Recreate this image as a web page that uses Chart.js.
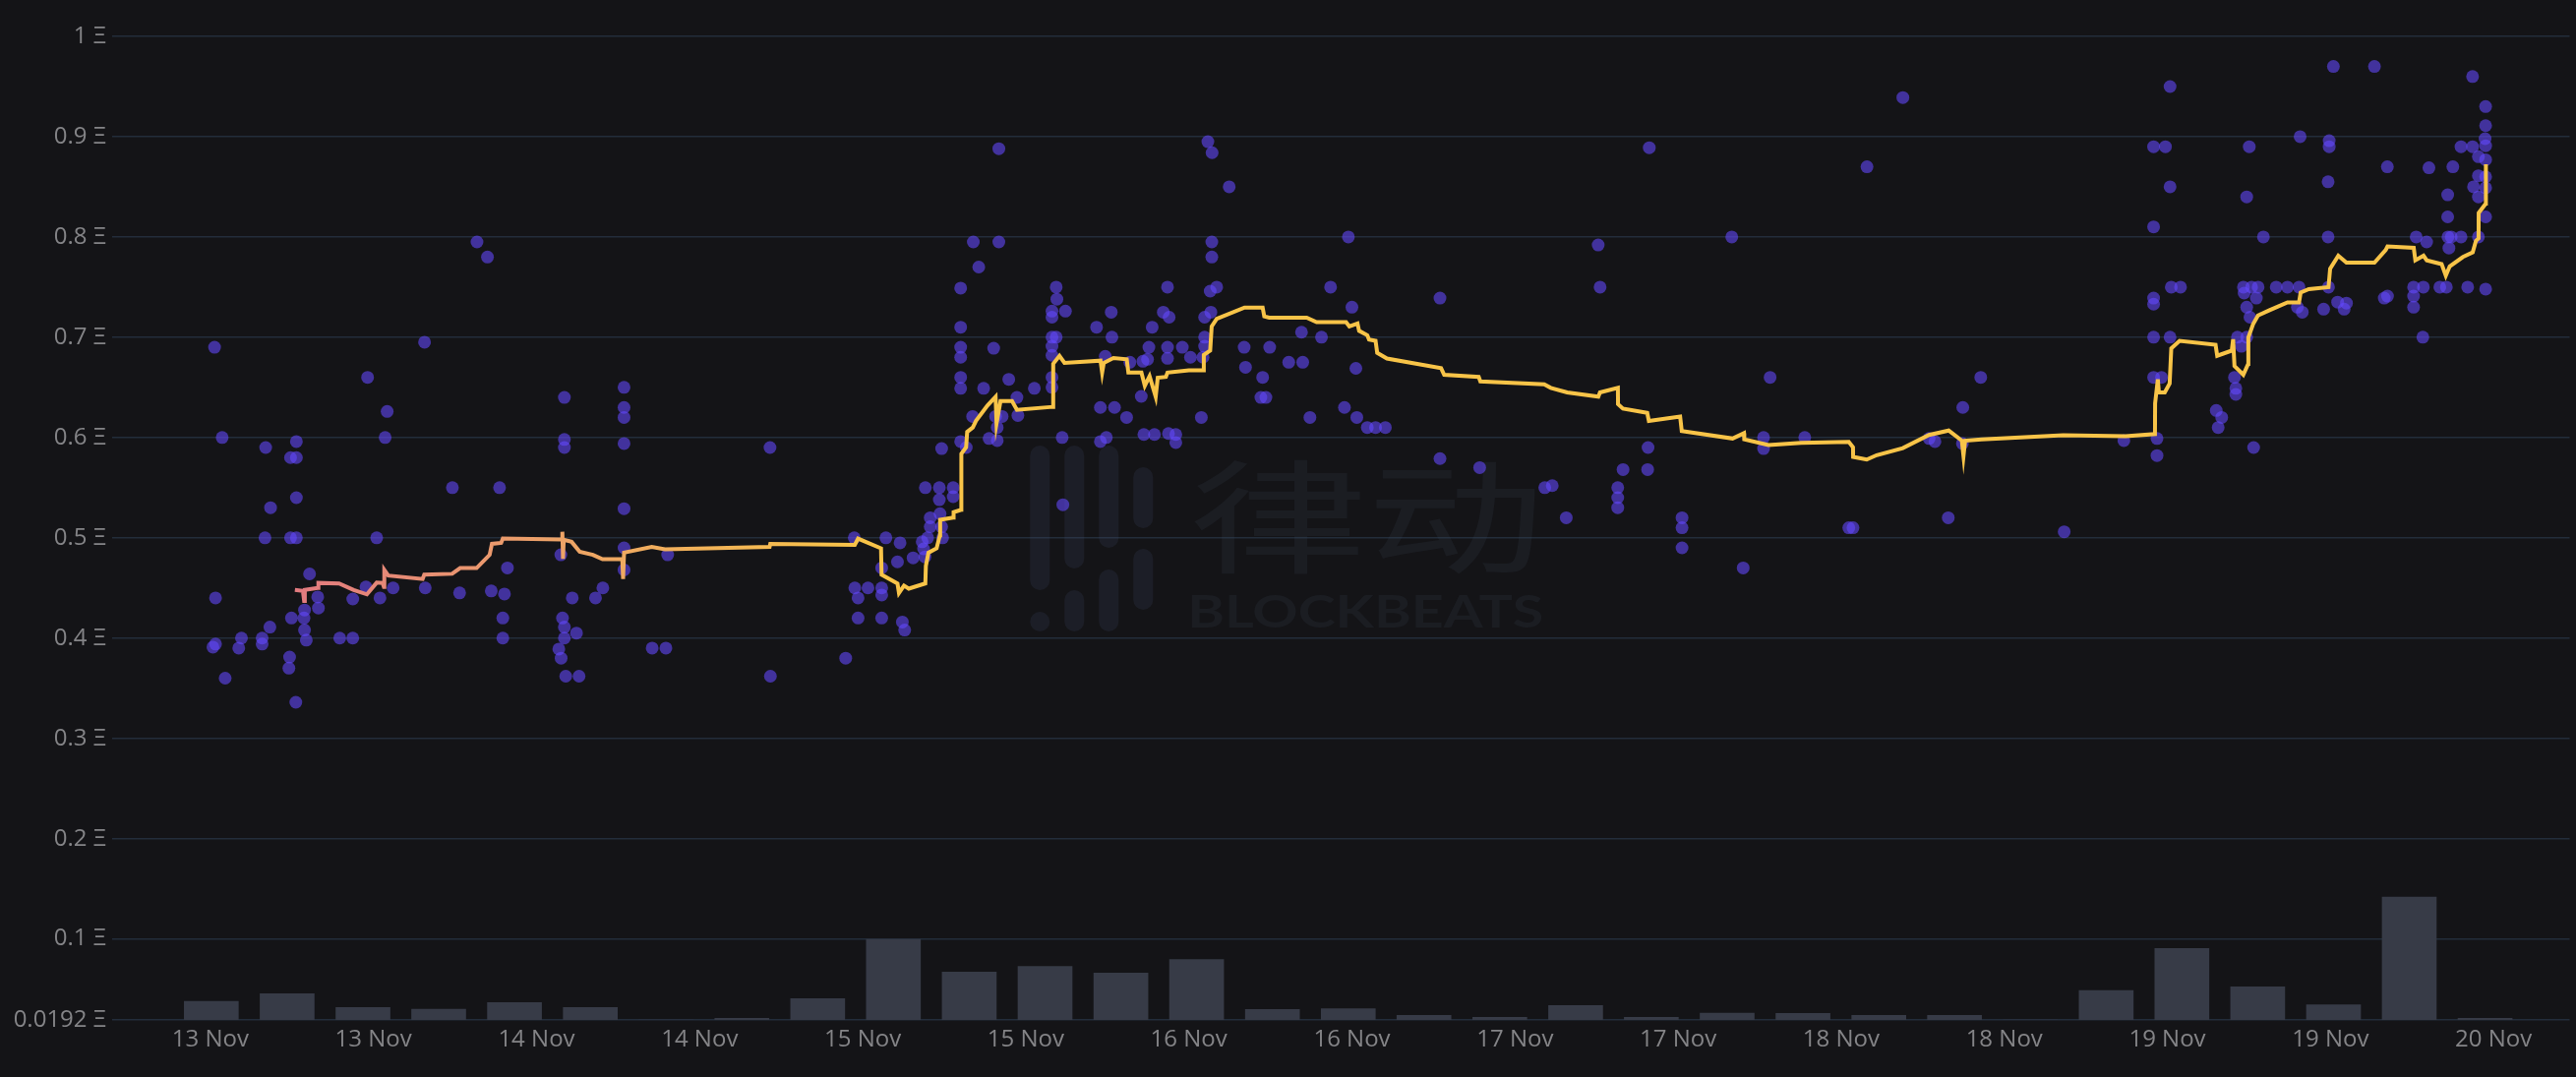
<!DOCTYPE html>
<html>
<head>
<meta charset="utf-8">
<script src="https://cdn.jsdelivr.net/npm/chart.js@4.4.1/dist/chart.umd.min.js"></script>
<style>
    html, body { margin: 0; padding: 0; background: #141417; }
    #wrap { width: 2619px; height: 1095px; position: relative; }
</style>
</head>
<body>
<div id="wrap"><canvas id="chart"></canvas></div>
<script>
// hours since 13 Nov 00:00
const tickHours = [0, 12, 24, 36, 48, 60, 72, 84, 96, 108, 120, 132, 144, 156, 168]
const tickLabels = ['13 Nov', '13 Nov', '14 Nov', '14 Nov', '15 Nov', '15 Nov', '16 Nov', '16 Nov',
    '17 Nov', '17 Nov', '18 Nov', '18 Nov', '19 Nov', '19 Nov', '20 Nov']
const yTickValues = [0.0192, 0.1, 0.2, 0.3, 0.4, 0.5, 0.6, 0.7, 0.8, 0.9, 1]

// volume per bin
const volumeTimes = [0.07, 5.65, 11.23, 16.8, 22.38, 27.96, 33.53, 39.11, 44.69, 50.26, 55.84, 61.42, 67.0, 72.57,
    78.15, 83.73, 89.3, 94.88, 100.46, 106.03, 111.61, 117.19, 122.77, 128.34, 133.92, 139.5, 145.07, 150.65,
    156.23, 161.8, 167.38]
const volumeValues = [1.9, 2.67, 1.27, 1.1, 1.77, 1.27, 0, 0.17, 2.17, 8.2, 4.87, 5.43, 4.77, 6.13,
    1.07, 1.13, 0.47, 0.27, 1.47, 0.27, 0.7, 0.67, 0.47, 0.47, 0, 3.0, 7.27, 3.37,
    1.53, 12.48, 0.17]

// floor price line
const lineTimes = [6.22, 6.81, 6.9, 6.95, 7.9, 7.95, 9.47, 10.55, 11.52, 12.24, 12.67, 12.77, 12.8, 13.09,
    15.62, 15.74, 17.79, 18.38, 19.59, 20.55, 20.72, 21.4, 21.52, 25.86, 25.9, 25.95, 26.0, 26.58,
    27.18, 28.15, 28.86, 30.31, 30.37, 30.44, 32.48, 33.45, 41.15, 41.2, 47.42, 47.66, 49.35, 49.39,
    50.56, 50.67, 51.04, 51.39, 52.61, 52.65, 52.84, 53.44, 53.68, 53.7, 54.66, 54.69, 55.25, 55.26,
    55.61, 55.69, 56.1, 56.34, 57.18, 57.78, 57.85, 58.14, 58.99, 59.35, 62.0, 62.02, 62.48, 62.85,
    65.5, 65.62, 65.74, 66.45, 67.43, 67.55, 68.51, 68.76, 69.11, 69.56, 69.71, 70.31, 70.43, 72.0,
    73.09, 73.1, 73.57, 73.68, 74.05, 76.1, 77.43, 77.55, 77.91, 80.67, 81.4, 83.57, 83.81, 84.41,
    84.53, 85.13, 85.26, 85.74, 85.86, 86.58, 90.56, 90.79, 93.33, 93.45, 98.15, 98.63, 99.84, 102.13,
    102.25, 103.57, 103.58, 103.94, 105.73, 105.85, 108.15, 108.27, 112.01, 112.85, 112.87, 114.65,
    117.06, 120.56, 120.87, 120.88, 121.88, 122.61, 124.54, 126.46, 127.91, 128.88, 129.0, 129.12,
    130.33, 136.34, 140.92, 143.09, 143.1, 143.3, 143.38, 143.81, 144.17, 144.29, 144.9, 147.55,
    147.67, 148.74, 148.84, 148.94, 149.59, 149.95, 149.96, 150.31, 150.67, 151.52, 152.84, 153.69,
    153.81, 154.41, 155.86, 155.98, 156.58, 157.18, 159.24, 160.07, 160.2, 162.13, 162.25, 162.85,
    163.09, 164.18, 164.49, 164.78, 165.75, 166.47, 166.71, 166.9, 166.91, 167.43, 167.44]
const lineValues = [0.448, 0.447, 0.437, 0.448, 0.450, 0.455, 0.4545, 0.448, 0.4436, 0.4553, 0.455, 0.451, 0.468, 0.4624,
    0.4589, 0.4633, 0.4641, 0.4698, 0.4698, 0.483, 0.494, 0.495, 0.4992, 0.4983, 0.506, 0.479, 0.498, 0.496,
    0.486, 0.483, 0.4786, 0.4786, 0.459, 0.4852, 0.4909, 0.4886, 0.4909, 0.494, 0.493, 0.4992, 0.4895, 0.4633,
    0.4545, 0.445, 0.4523, 0.4493, 0.4545, 0.472, 0.4852, 0.4895, 0.5026, 0.518, 0.5202, 0.5255, 0.528, 0.5837,
    0.5903, 0.6056, 0.61, 0.6166, 0.6319, 0.6407, 0.614, 0.6363, 0.6363, 0.6276, 0.6306, 0.6735, 0.6815, 0.6744,
    0.6766, 0.6648, 0.6744, 0.6792, 0.678, 0.6648, 0.6648, 0.6516, 0.6612, 0.6407, 0.6596, 0.6604, 0.6648, 0.667,
    0.667, 0.6823, 0.6867, 0.7108, 0.7183, 0.7296, 0.7296, 0.7209, 0.7195, 0.7195, 0.7151, 0.7151, 0.7108, 0.7138,
    0.7064, 0.702, 0.6976, 0.6964, 0.6845, 0.6788, 0.6692, 0.6626, 0.6604, 0.656, 0.653, 0.6495, 0.645, 0.6407,
    0.645, 0.6495, 0.6333, 0.6289, 0.6245, 0.6166, 0.621, 0.6065, 0.599, 0.6043, 0.5982, 0.5925,
    0.5947, 0.5956, 0.5903, 0.5807, 0.578, 0.5824, 0.5894, 0.6026, 0.607, 0.5969, 0.5815, 0.5969,
    0.5982, 0.6022, 0.6013, 0.6034, 0.6341, 0.658, 0.645, 0.645, 0.6539, 0.6889, 0.6964, 0.6924,
    0.6815, 0.6867, 0.698, 0.6713, 0.6626, 0.6735, 0.6998, 0.713, 0.7217, 0.727, 0.7348, 0.7348,
    0.7446, 0.748, 0.7499, 0.7684, 0.7813, 0.7744, 0.7744, 0.787, 0.7906, 0.7892, 0.7767, 0.7813,
    0.7767, 0.773, 0.7614, 0.7707, 0.78, 0.7846, 0.7962, 0.7985, 0.824, 0.8333, 0.8726]

// individual sales
const saleTimes = [
    0.31, 0.87, 0.38, 0.19, 0.38, 1.09, 2.29, 2.09, 3.81, 3.81,
    4.38, 4.07, 4.43, 4.02, 6.33, 5.9, 6.33, 6.33, 5.9, 6.33,
    7.3, 5.97, 6.93, 6.89, 6.93, 7.06, 5.83, 5.78, 6.29, 7.9,
    7.95, 9.52, 10.48, 10.48, 11.57, 13.01, 12.86, 12.24, 11.45, 12.48,
    13.45, 15.81, 15.76, 17.81, 18.34, 19.62, 20.39, 21.28, 21.86, 20.67,
    21.64, 21.52, 21.52, 26.05, 26.05, 26.05, 25.79, 26.63, 25.91, 26.05,
    26.05, 25.64, 25.81, 26.15, 26.94, 27.13, 28.34, 28.88, 30.44, 30.44,
    30.44, 30.44, 30.44, 30.44, 30.44, 33.65, 32.51, 33.52, 41.18, 41.21,
    46.75, 47.38, 47.42, 47.66, 47.66, 48.39, 49.4, 49.71, 49.4, 49.4,
    49.4, 50.75, 50.56, 50.92, 51.09, 51.71, 52.61, 53.64, 53.64, 54.66,
    54.66, 52.97, 53.69, 52.97, 53.81, 52.38, 52.78, 52.48, 52.58, 53.88,
    53.81, 55.21, 55.21, 55.21, 55.21, 55.21, 55.21, 55.21, 55.62, 56.14,
    56.54, 58.02, 58.02, 56.9, 57.64, 56.09, 57.3, 57.9, 57.78, 58.26,
    57.9, 58.75, 59.35, 59.42, 60.63, 62.24, 62.29, 61.93, 62.92, 61.93,
    61.93, 62.24, 61.93, 61.93, 61.93, 61.93, 62.68, 62.73, 65.21, 66.29,
    66.34, 65.85, 65.49, 66.53, 67.42, 65.49, 65.93, 67.66, 69.3, 69.06,
    68.62, 68.96, 68.5, 68.69, 69.47, 70.43, 70.12, 70.55, 70.43, 70.43,
    71.52, 72.12, 70.5, 71.04, 71.04, 72.92, 73.04, 73.16, 73.16, 73.16,
    73.57, 74.05, 73.62, 73.4, 73.71, 74.97, 73.69, 73.69, 76.07, 76.17,
    77.95, 77.43, 77.67, 77.3, 79.35, 80.38, 80.29, 81.76, 82.43, 83.74,
    84.0, 84.29, 80.91, 83.45, 84.36, 85.13, 85.74, 86.46, 90.48, 90.48,
    93.4, 98.19, 98.74, 99.77, 102.12, 102.26, 103.56, 103.56, 103.56, 103.95,
    105.79, 105.76, 105.88, 108.29, 108.29, 108.29, 111.95, 112.79, 114.77, 114.29,
    114.29, 117.32, 120.56, 120.87, 121.9, 124.54, 126.47, 126.9, 128.95, 130.27,
    128.92, 127.88, 136.41, 140.8, 142.99, 143.86, 144.2, 144.2, 142.99, 144.29,
    144.97, 142.99, 142.99, 142.99, 142.99, 144.2, 143.57, 143.24, 143.24, 150.03,
    149.84, 151.07, 149.6, 150.2, 150.68, 149.65, 150.55, 149.84, 150.08, 149.84,
    149.16, 149.45, 148.94, 149.04, 149.04, 147.6, 148.0, 147.74, 150.35, 152.01,
    152.84, 153.69, 153.57, 153.93, 153.77, 156.22, 159.24, 166.46, 167.42, 167.42,
    167.38, 167.42, 165.61, 166.46, 166.89, 167.42, 166.89, 167.42, 166.53, 167.42,
    166.89, 167.42, 155.91, 155.91, 155.83, 160.19, 163.25, 165.01, 164.63, 164.63,
    155.83, 162.31, 163.08, 164.65, 164.89, 165.61, 164.72, 166.89, 155.86, 155.5,
    156.53, 157.18, 157.01, 159.96, 160.2, 162.12, 162.12, 162.12, 162.84, 164.05,
    164.53, 166.1, 167.42, 162.8
]
const salePrices = [
    0.690, 0.600, 0.440, 0.391, 0.394, 0.360, 0.400, 0.390, 0.400, 0.394,
    0.411, 0.590, 0.530, 0.500, 0.596, 0.580, 0.580, 0.540, 0.500, 0.500,
    0.464, 0.420, 0.428, 0.420, 0.408, 0.398, 0.381, 0.370, 0.336, 0.441,
    0.430, 0.400, 0.400, 0.439, 0.660, 0.626, 0.600, 0.500, 0.451, 0.440,
    0.450, 0.450, 0.695, 0.550, 0.445, 0.795, 0.780, 0.550, 0.470, 0.447,
    0.444, 0.420, 0.400, 0.640, 0.598, 0.590, 0.483, 0.440, 0.420, 0.411,
    0.400, 0.389, 0.380, 0.362, 0.405, 0.362, 0.440, 0.450, 0.650, 0.630,
    0.620, 0.594, 0.529, 0.490, 0.468, 0.483, 0.390, 0.390, 0.590, 0.362,
    0.380, 0.500, 0.450, 0.440, 0.420, 0.450, 0.420, 0.500, 0.470, 0.450,
    0.443, 0.495, 0.476, 0.416, 0.408, 0.480, 0.550, 0.550, 0.538, 0.550,
    0.541, 0.520, 0.524, 0.511, 0.511, 0.496, 0.500, 0.489, 0.481, 0.500,
    0.589, 0.749, 0.710, 0.690, 0.680, 0.660, 0.649, 0.596, 0.590, 0.795,
    0.770, 0.795, 0.888, 0.649, 0.689, 0.621, 0.599, 0.597, 0.621, 0.621,
    0.610, 0.658, 0.640, 0.622, 0.649, 0.750, 0.738, 0.726, 0.726, 0.720,
    0.700, 0.700, 0.691, 0.682, 0.660, 0.650, 0.600, 0.533, 0.710, 0.725,
    0.700, 0.681, 0.630, 0.630, 0.620, 0.596, 0.600, 0.675, 0.710, 0.690,
    0.676, 0.678, 0.641, 0.603, 0.603, 0.750, 0.725, 0.720, 0.690, 0.679,
    0.690, 0.680, 0.604, 0.603, 0.595, 0.620, 0.680, 0.700, 0.691, 0.720,
    0.746, 0.750, 0.725, 0.895, 0.884, 0.850, 0.795, 0.780, 0.690, 0.670,
    0.690, 0.660, 0.640, 0.640, 0.675, 0.675, 0.705, 0.700, 0.750, 0.800,
    0.730, 0.669, 0.620, 0.630, 0.620, 0.610, 0.610, 0.610, 0.739, 0.579,
    0.570, 0.550, 0.552, 0.520, 0.792, 0.750, 0.550, 0.540, 0.530, 0.568,
    0.590, 0.568, 0.889, 0.520, 0.510, 0.490, 0.800, 0.470, 0.660, 0.600,
    0.589, 0.600, 0.510, 0.510, 0.870, 0.939, 0.599, 0.596, 0.630, 0.660,
    0.594, 0.520, 0.506, 0.597, 0.890, 0.890, 0.950, 0.850, 0.810, 0.750,
    0.750, 0.739, 0.733, 0.700, 0.660, 0.700, 0.660, 0.599, 0.582, 0.890,
    0.840, 0.800, 0.750, 0.750, 0.750, 0.744, 0.739, 0.730, 0.720, 0.700,
    0.700, 0.691, 0.660, 0.649, 0.643, 0.627, 0.620, 0.610, 0.590, 0.750,
    0.750, 0.750, 0.730, 0.725, 0.900, 0.970, 0.970, 0.960, 0.930, 0.911,
    0.898, 0.891, 0.890, 0.890, 0.880, 0.877, 0.861, 0.860, 0.850, 0.849,
    0.840, 0.820, 0.896, 0.890, 0.855, 0.870, 0.869, 0.870, 0.842, 0.820,
    0.800, 0.800, 0.795, 0.800, 0.800, 0.800, 0.789, 0.800, 0.750, 0.728,
    0.735, 0.734, 0.728, 0.739, 0.741, 0.750, 0.741, 0.730, 0.750, 0.750,
    0.750, 0.750, 0.748, 0.700
]

const labelFont = { family: '"Open Sans", "DejaVu Sans", sans-serif', size: 24 }
const labelColor = '#848487'

const background = {
    id: 'background',
    beforeDraw(chart) {
        const ctx = chart.ctx
        ctx.save()
        ctx.fillStyle = '#141417'
        ctx.fillRect(0, 0, chart.width, chart.height)
        ctx.restore()
    }
}

function pill(ctx, x, y, w, h) {
    const r = w / 2
    ctx.beginPath()
    ctx.arc(x + r, y + r, r, Math.PI, 0)
    ctx.arc(x + r, y + h - r, r, 0, Math.PI)
    ctx.closePath()
    ctx.fill()
}

// faint BlockBeats logo behind the data
const watermark = {
    id: 'watermark',
    beforeDatasetsDraw(chart) {
        const { ctx, chartArea: a } = chart
        const cx = (a.left + a.right) / 2
        const cy = (a.top + a.bottom) / 2
        ctx.save()
        ctx.fillStyle = 'rgba(70, 84, 120, 0.17)'
        const cols = [
            [-324, [[-84, 63], [85, 105]]],
            [-289, [[-84, 41], [63, 105]]],
            [-254, [[-84, 20], [42, 105]]],
            [-219, [[-62, 0], [21, 83]]]
        ]
        cols.forEach(([dx, segs]) => {
            segs.forEach(([y0, y1]) => pill(ctx, cx + dx, cy + y0, 20, y1 - y0))
        })
        ctx.fillStyle = 'rgba(70, 78, 100, 0.15)'
        ctx.font = '400 125px "Noto Sans CJK SC"'
        ctx.textBaseline = 'middle'
        ctx.textAlign = 'left'
        let w = ctx.measureText('律动').width
        ctx.save()
        ctx.translate(cx - 162, cy - 12)
        ctx.scale(361 / w, 1)
        ctx.fillText('律动', 0, 0)
        ctx.restore()
        ctx.font = '700 46px Lato'
        ctx.textBaseline = 'alphabetic'
        w = ctx.measureText('BLOCKBEATS').width
        ctx.save()
        ctx.translate(cx - 164, cy + 101)
        ctx.scale(362 / w, 1)
        ctx.fillText('BLOCKBEATS', 0, 0)
        ctx.restore()
        ctx.restore()
    }
}

new Chart(document.getElementById('chart'), {
    type: 'line',
    data: {
        datasets: [
            {
                type: 'line',
                data: lineTimes.map((t, i) => ({ x: t, y: lineValues[i] })),
                borderColor: (context) => {
                    const { chart } = context
                    const { ctx, chartArea, scales } = chart
                    if (!chartArea) return '#f8c448'
                    const x0 = scales.x.getPixelForValue(6)
                    const x1 = scales.x.getPixelForValue(48)
                    const g = ctx.createLinearGradient(x0, 0, x1, 0)
                    g.addColorStop(0, '#e27a80')
                    g.addColorStop(0.45, '#eda268')
                    g.addColorStop(1, '#f8c448')
                    return g
                },
                borderWidth: 4,
                pointRadius: 0,
                tension: 0,
                yAxisID: 'y',
                order: 0,
            },
            {
                type: 'scatter',
                data: saleTimes.map((t, i) => ({ x: t, y: salePrices[i] })),
                backgroundColor: 'rgba(100, 72, 255, 0.58)',
                borderWidth: 0,
                pointRadius: 6.5,
                yAxisID: 'y',
                order: 1,
            },
            {
                type: 'bar',
                data: volumeTimes.map((t, i) => ({ x: t, y: volumeValues[i] })),
                backgroundColor: '#373b47',
                barThickness: 55,
                yAxisID: 'yVol',
                order: 2,
            }
        ]
    },
    options: {
        responsive: true,
        maintainAspectRatio: false,
        animation: false,
        layout: { padding: { top: 37, right: 4, left: 0, bottom: 0 } },
        plugins: {
            legend: { display: false },
            tooltip: { enabled: false },
        },
        scales: {
            x: {
                type: 'linear',
                min: -6.07,
                max: 173.6,
                offset: false,
                grid: { display: false, drawTicks: false },
                border: { display: false },
                afterBuildTicks: (scale) => { scale.ticks = tickHours.map(v => ({ value: v })) },
                afterFit: (scale) => { scale.height = 58 },
                ticks: {
                    autoSkip: false,
                    maxRotation: 0,
                    padding: 6,
                    color: labelColor,
                    font: labelFont,
                    callback: (value, index) => tickLabels[index],
                }
            },
            y: {
                min: 0.0192,
                max: 1,
                position: 'left',
                grid: { color: '#232d3b', lineWidth: 1.5, tickLength: 16 },
                border: { display: false },
                afterBuildTicks: (scale) => { scale.ticks = yTickValues.map(v => ({ value: v })) },
                afterFit: (scale) => { scale.width = 130 },
                ticks: {
                    padding: 6,
                    color: labelColor,
                    font: labelFont,
                    callback: (value) => value + ' Ξ',
                }
            },
            yVol: {
                display: false,
                min: 0,
                max: 100,
            }
        }
    },
    plugins: [background, watermark]
})
</script>
</body>
</html>
